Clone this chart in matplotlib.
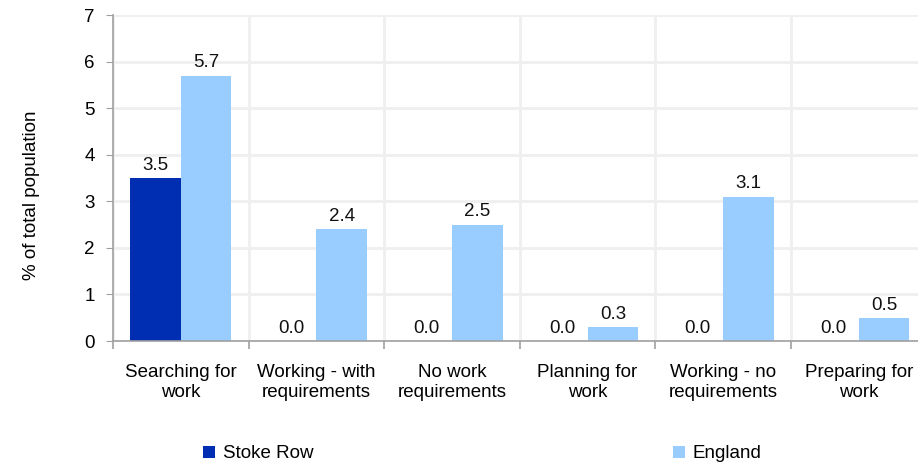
import matplotlib
matplotlib.use("Agg")
import matplotlib.pyplot as plt
import numpy as np

categories = ["Searching for\nwork", "Working - with\nrequirements", "No work\nrequirements",
              "Planning for\nwork", "Working - no\nrequirements", "Preparing for\nwork"]
stoke_row = [3.5, 0.0, 0.0, 0.0, 0.0, 0.0]
england = [5.7, 2.4, 2.5, 0.3, 3.1, 0.5]
series_names = ["Stoke Row", "England"]
yticks = [0, 1, 2, 3, 4, 5, 6, 7]

plt.rcParams['font.family'] = ['Liberation Sans', 'DejaVu Sans']
FS = 13.5

W, H = 918, 463
fig = plt.figure(figsize=(W/100, H/100), dpi=100)
left, right, top, bottom = 113, 926.5, 15, 341
ax = fig.add_axes([left/W, 1-bottom/H, (right-left)/W, (bottom-top)/H])

x = np.arange(len(categories))
bw = 0.373
c1, c2 = "#002EB2", "#99CCFF"
b1 = ax.bar(x - bw/2, stoke_row, bw, color=c1, label=series_names[0], zorder=3)
b2 = ax.bar(x + bw/2, england, bw, color=c2, label=series_names[1], zorder=3)

for bars, vals in ((b1, stoke_row), (b2, england)):
    for r, v in zip(bars, vals):
        ax.annotate(f"{v:.1f}", (r.get_x()+r.get_width()/2, v), xytext=(0, 3),
                    textcoords="offset points", ha="center", va="bottom",
                    fontsize=FS, color="#111111")

ax.set_xlim(-0.5, len(categories)-0.5)
ax.set_ylim(0, 7)
ax.set_yticks(yticks)
ax.set_yticklabels([str(t) for t in yticks], fontsize=FS)
ax.set_xticks(x)
ax.set_xticklabels(categories, fontsize=FS, linespacing=1.2)
ax.tick_params(axis='x', length=0, pad=16.5)
ax.tick_params(axis='y', length=5, color="#a0a0a0", pad=8)
ax.set_xticks(np.arange(-0.5, len(categories), 1), minor=True)
ax.tick_params(axis='x', which='minor', length=6, color="#a0a0a0", width=1.2)
ax.grid(True, which='major', axis='y', color="#efefef", linewidth=2, zorder=0)
ax.grid(True, which='minor', axis='x', color="#efefef", linewidth=2, zorder=0)
for s in ["top", "right"]:
    ax.spines[s].set_visible(False)
for s in ["left", "bottom"]:
    ax.spines[s].set_color("#a0a0a0")
    ax.spines[s].set_linewidth(1.2)
    ax.spines[s].set_zorder(4)

fig.text(32/W, 1-195/H, "% of total population", rotation=90, ha="center", va="center", fontsize=FS)

# legend
fig.legend(handles=[b1], labels=[series_names[0]], loc="center left",
           bbox_to_anchor=(203/W, 1-454/H), frameon=False, fontsize=FS,
           handlelength=0.65, handleheight=0.65, handletextpad=0.4, borderpad=0, borderaxespad=0)
fig.legend(handles=[b2], labels=[series_names[1]], loc="center left",
           bbox_to_anchor=(673/W, 1-454/H), frameon=False, fontsize=FS,
           handlelength=0.65, handleheight=0.65, handletextpad=0.4, borderpad=0, borderaxespad=0)

fig.savefig("out.png", dpi=100)
